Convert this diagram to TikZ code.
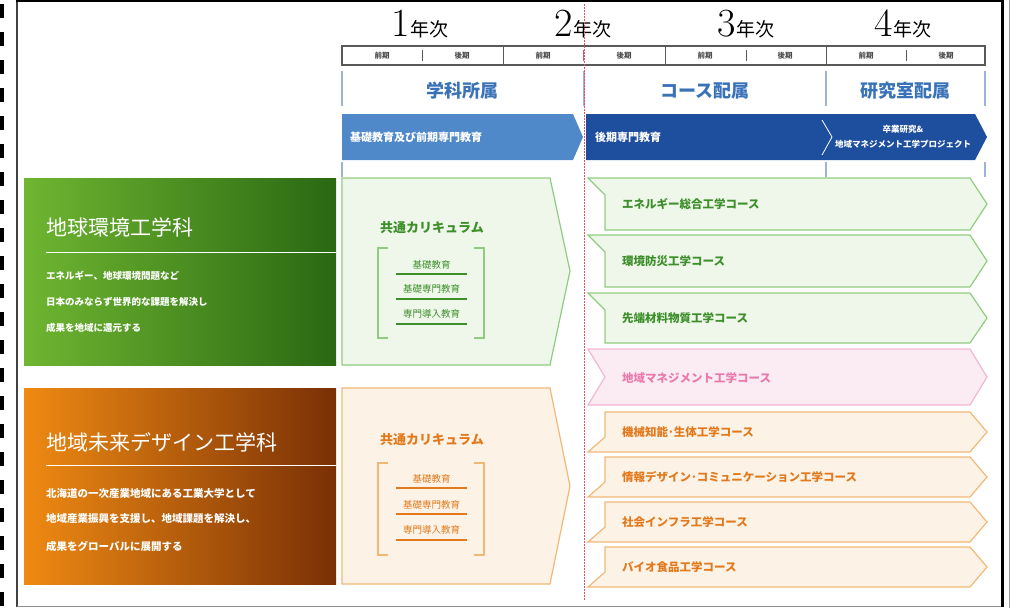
\documentclass[tikz,border=0pt]{standalone}
\usepackage{fontspec}
\newfontfamily\jp{Noto Sans CJK JP}
\usetikzlibrary{calc}

\definecolor{grLight}{HTML}{6FB631}
\definecolor{grDark}{HTML}{2A6812}
\definecolor{orLight}{HTML}{EF8A12}
\definecolor{orDark}{HTML}{7A3006}
\definecolor{secblue}{HTML}{3A72B8}
\definecolor{barLight}{HTML}{4F89C9}
\definecolor{barDark}{HTML}{1E4F9E}
\definecolor{vline}{HTML}{9DB4D8}
\definecolor{reddash}{HTML}{E0506A}
\definecolor{grFill}{HTML}{EFF7EB}
\definecolor{grLine}{HTML}{90CC80}
\definecolor{grText}{HTML}{3D8F2A}
\definecolor{orFill}{HTML}{FDF2E6}
\definecolor{orLine}{HTML}{F2B877}
\definecolor{orText}{HTML}{E27A1D}
\definecolor{pkFill}{HTML}{FBEBF3}
\definecolor{pkLine}{HTML}{F3B7D2}
\definecolor{pkText}{HTML}{EA7AAC}

\begin{document}
\begin{tikzpicture}[x=1pt,y=-1pt,
    yearlbl/.style={anchor=base,inner sep=0pt},
    termlbl/.style={inner sep=0pt,text=black!70,font=\jp\bfseries\fontsize{7.5}{8}\selectfont},
    sectlbl/.style={inner sep=0pt,text=secblue,font=\jp\bfseries\fontsize{18}{20}\selectfont},
    bartxt/.style={inner sep=0pt,text=white,font=\jp\bfseries\fontsize{11}{13}\selectfont},
    depttitle/.style={anchor=west,inner sep=0pt,text=white,font=\jp\fontsize{21}{24}\selectfont},
    deptbody/.style={anchor=west,inner sep=0pt,text=white,font=\jp\bfseries\fontsize{9.5}{11}\selectfont},
    commonlbl/.style={inner sep=0pt,font=\jp\bfseries\fontsize{13}{15}\selectfont},
    itemlbl/.style={inner sep=0pt,font=\jp\fontsize{9.5}{11}\selectfont},
    coursetxt/.style={anchor=west,inner sep=0pt,font=\jp\bfseries\fontsize{11.5}{13}\selectfont},
    grcourse/.style={draw=grLine,fill=grFill,line width=1.2pt},
    orcourse/.style={draw=orLine,fill=orFill,line width=1.2pt},
    pkcourse/.style={draw=pkLine,fill=pkFill,line width=1.2pt}]
    \useasboundingbox (0,0) rectangle (1011,608);

    % frame
    \draw[line width=4pt,dash pattern=on 14pt off 14pt] (2,4) -- (2,608);
    \draw[line width=1.5pt,black!75] (17,1.5) -- (17,606.5);
    \draw[line width=1pt,black!45] (17,606.5) -- (1003,606.5);
    \draw[line width=2.5pt] (16,1.2) -- (1003,1.2);
    \draw[line width=3pt] (1002.5,0) -- (1002.5,607);
    \draw[line width=0.8pt,black!40] (1009,0) -- (1009,608);

    % years and terms
    \node[yearlbl] (y1) at (420,36) {\fontsize{40}{40}\selectfont 1\jp\fontsize{19}{19}\selectfont 年次};
    \node[yearlbl] (y2) at (583,36) {\fontsize{40}{40}\selectfont 2\jp\fontsize{19}{19}\selectfont 年次};
    \node[yearlbl] (y3) at (746,36) {\fontsize{40}{40}\selectfont 3\jp\fontsize{19}{19}\selectfont 年次};
    \node[yearlbl] (y4) at (903,36) {\fontsize{40}{40}\selectfont 4\jp\fontsize{19}{19}\selectfont 年次};

    \draw[line width=1.2pt,black!65,fill=white] (342,46) rectangle (985,65);
    \draw[line width=1pt,black!65] (503,46) -- (503,65) (665,46) -- (665,65) (826,46) -- (826,65);
    \draw[line width=1pt,black!65] (422,50) -- (422,61) (746,50) -- (746,61) (906,50) -- (906,61);
    \draw[line width=1pt,reddash] (583.5,50) -- (583.5,61);
    \node[termlbl] (t1) at (382,56) {前期};
    \node[termlbl] (t2) at (462,56) {後期};
    \node[termlbl] (t3) at (543,56) {前期};
    \node[termlbl] (t4) at (624,56) {後期};
    \node[termlbl] (t5) at (705,56) {前期};
    \node[termlbl] (t6) at (785,56) {後期};
    \node[termlbl] (t7) at (866,56) {前期};
    \node[termlbl] (t8) at (946,56) {後期};

    % sections
    \draw[line width=1.2pt,vline] (342,71) -- (342,106) (584,71) -- (584,106) (826,71) -- (826,106) (985,71) -- (985,106);
    \draw[line width=1.2pt,vline] (342,162) -- (342,177) (826,162) -- (826,177) (985,162) -- (985,177);
    \node[sectlbl] (s1) at (462,91) {学科所属};
    \node[sectlbl] (s2) at (705,91) {コース配属};
    \node[sectlbl] (s3) at (905,91) {研究室配属};

    \fill[barLight] (342,114) -- (573,114) -- (583,137) -- (573,160) -- (342,160) -- cycle;
    \fill[barDark] (586,114) -- (975,114) -- (987,137) -- (975,160) -- (586,160) -- cycle;
    \draw[white,line width=0.8pt] (822,120) -- (832,137) -- (822,155);
    \node[bartxt,anchor=west] (b1) at (350,137) {基礎教育及び前期専門教育};
    \node[bartxt,anchor=west] (b2) at (595,137) {後期専門教育};
    \node[bartxt,font=\jp\bfseries\fontsize{8.5}{10}\selectfont] (b3) at (903,129) {卒業研究\&};
    \node[bartxt,font=\jp\bfseries\fontsize{8.5}{10}\selectfont] (b4) at (903,144) {地域マネジメント工学プロジェクト};

    % departments
    \shade[left color=grLight,right color=grDark] (24,178) rectangle (336,365);
    \draw[white,line width=1pt] (46,252) -- (336,252);
    \node[depttitle] (d1) at (46,227) {地球環境工学科};
    \node[deptbody] (d1a) at (46,276) {エネルギー、地球環境問題など};
    \node[deptbody] (d1b) at (46,302) {日本のみならず世界的な課題を解決し};
    \node[deptbody] (d1c) at (46,328) {成果を地域に還元する};

    \shade[left color=orLight,right color=orDark] (24,388) rectangle (336,584);
    \draw[white,line width=1pt] (46,465) -- (336,465);
    \node[depttitle] (d2) at (46,442) {地域未来デザイン工学科};
    \node[deptbody,font=\jp\bfseries\fontsize{10.5}{12}\selectfont] (d2a) at (46,493) {北海道の一次産業地域にある工業大学として};
    \node[deptbody,font=\jp\bfseries\fontsize{10.5}{12}\selectfont] (d2b) at (46,519) {地域産業振興を支援し、地域課題を解決し、};
    \node[deptbody,font=\jp\bfseries\fontsize{10.5}{12}\selectfont] (d2c) at (46,546) {成果をグローバルに展開する};

    % common curriculum
    \draw[grcourse] (342,178) -- (550,178) -- (570,271) -- (550,365) -- (342,365) -- cycle;
    \node[commonlbl,text=grText] (c1) at (432,228) {共通カリキュラム};
    \draw[grLine,line width=1.5pt] (388,248) -- (378,248) -- (378,338) -- (388,338);
    \draw[grLine,line width=1.5pt] (474,248) -- (484,248) -- (484,338) -- (474,338);
    \node[itemlbl,text=grText] (c1a) at (431.5,265) {基礎教育};
    \node[itemlbl,text=grText] (c1b) at (431.5,289) {基礎専門教育};
    \node[itemlbl,text=grText] (c1c) at (431.5,314) {専門導入教育};
    \draw[grText,line width=1.2pt] (396,274) -- (467,274) (396,299) -- (467,299) (396,324) -- (467,324);

    \draw[orcourse] (342,388) -- (550,388) -- (570,486) -- (550,584) -- (342,584) -- cycle;
    \node[commonlbl,text=orText] (c2) at (432,440) {共通カリキュラム};
    \draw[orLine,line width=1.5pt] (388,463) -- (378,463) -- (378,555) -- (388,555);
    \draw[orLine,line width=1.5pt] (474,463) -- (484,463) -- (484,555) -- (474,555);
    \node[itemlbl,text=orText] (c2a) at (431.5,479) {基礎教育};
    \node[itemlbl,text=orText] (c2b) at (431.5,505) {基礎専門教育};
    \node[itemlbl,text=orText] (c2c) at (431.5,530) {専門導入教育};
    \draw[orText,line width=1.2pt] (396,488) -- (467,488) (396,514) -- (467,514) (396,540) -- (467,540);

    % courses
    \draw[grcourse] (588,178) -- (970,178) -- (987,204) -- (970,230) -- (605,230) -- (605,195) -- cycle;
    \draw[grcourse] (588,235) -- (970,235) -- (987,261) -- (970,287) -- (605,287) -- (605,252) -- cycle;
    \draw[grcourse] (588,293) -- (970,293) -- (987,318) -- (970,343) -- (605,343) -- (605,310) -- cycle;
    \draw[pkcourse] (588,349) -- (970,349) -- (987,377) -- (970,405) -- (588,405) -- (605,377) -- cycle;
    \draw[orcourse] (605,412) -- (970,412) -- (987,432) -- (970,452) -- (588,452) -- (605,437) -- cycle;
    \draw[orcourse] (605,457) -- (970,457) -- (987,477) -- (970,497) -- (588,497) -- (605,482) -- cycle;
    \draw[orcourse] (605,502) -- (970,502) -- (987,522) -- (970,542) -- (588,542) -- (605,527) -- cycle;
    \draw[orcourse] (605,547) -- (970,547) -- (987,567) -- (970,587) -- (588,587) -- (605,572) -- cycle;
    \node[coursetxt,text=grText] (k1) at (622,204) {エネルギー総合工学コース};
    \node[coursetxt,text=grText] (k2) at (622,261) {環境防災工学コース};
    \node[coursetxt,text=grText] (k3) at (622,318) {先端材料物質工学コース};
    \node[coursetxt,text=pkText] (k4) at (622,378) {地域マネジメント工学コース};
    \node[coursetxt,text=orText] (k5) at (622,432) {機械知能･生体工学コース};
    \node[coursetxt,text=orText] (k6) at (622,477) {情報デザイン･コミュニケーション工学コース};
    \node[coursetxt,text=orText] (k7) at (622,522) {社会インフラ工学コース};
    \node[coursetxt,text=orText] (k8) at (622,567) {バイオ食品工学コース};

    % split line
    \draw[reddash,line width=1pt,dash pattern=on 1.5pt off 1.5pt] (584,4) -- (584,600);
\end{tikzpicture}
\end{document}
